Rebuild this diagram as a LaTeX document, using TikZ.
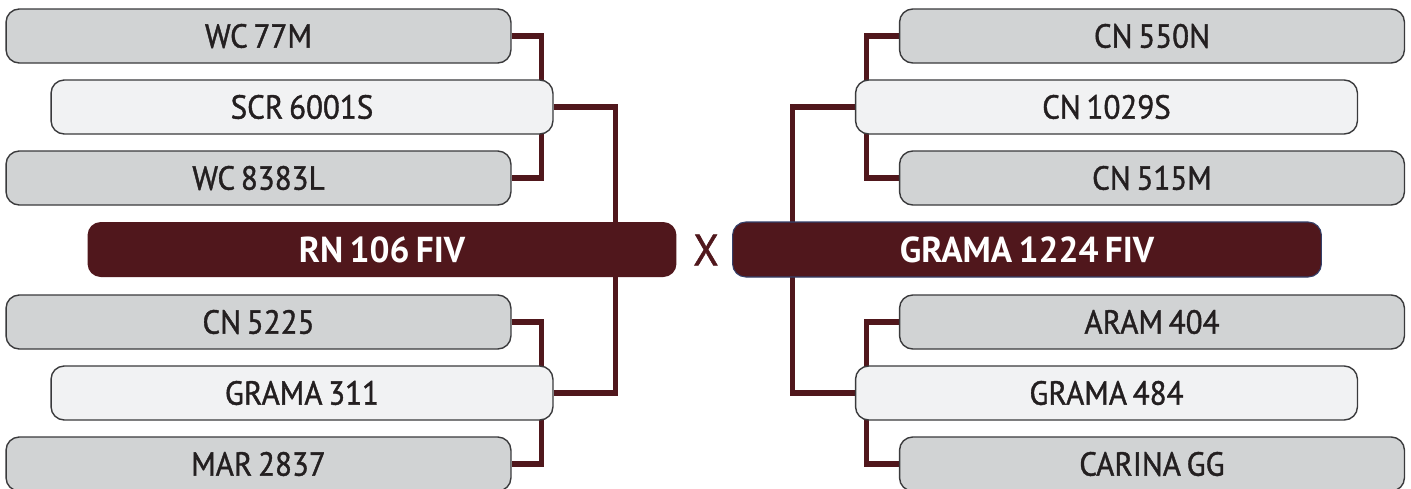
\documentclass[tikz,border=0pt]{standalone}
\usepackage{fontspec}
\setmainfont{PT Sans}
\newfontfamily\cellfont{PT Sans}[FakeBold=1.2,FakeStretch=0.93,WordSpace=0.7]
\newfontfamily\seedfont{PT Sans Bold}[FakeStretch=0.98,WordSpace=0.7]
\usetikzlibrary{positioning}
\definecolor{ink}{HTML}{231F20}
\definecolor{wine}{HTML}{50171C}
\definecolor{edge}{HTML}{3A3A3C}
\definecolor{rim}{HTML}{34406A}
\definecolor{plate}{HTML}{D1D3D4}
\definecolor{pale}{HTML}{F1F2F3}
\pgfdeclarelayer{back}
\pgfsetlayers{back,main}

\begin{document}
\begin{tikzpicture}[
  x=0.02cm,y=-0.02cm,
  text=ink,
  link/.style={draw=wine,line width=2.9pt},
  cell/.style={draw=edge,line width=.8pt,rounded corners=7.5pt,
    minimum height=1.08cm,inner sep=0pt,
    font=\cellfont\fontsize{19}{20}\selectfont},
  outer/.style={cell,fill=plate,minimum width=10.1cm},
  inner/.style={cell,fill=pale,minimum width=10.04cm},
  seed/.style={fill=wine,rounded corners=7.5pt,minimum width=11.78cm,
    minimum height=1.1cm,inner sep=0pt,text=white,
    font=\seedfont\fontsize{20.5}{22}\selectfont}
]
  \useasboundingbox (0,0) rectangle (1411,488);

  % left side
  \foreach \name/\y/\lbl in {wc77/36/WC 77M,wc8383/178/WC 8383L,
      cn5225/322/CN 5225,mar/464/MAR 2837}
    \node[outer] (\name) at (258.5,\y) {\lbl};
  \foreach \name/\y/\lbl in {scr/107/SCR 6001S,grama311/393/GRAMA 311}
    \node[inner] (\name) at (302,\y) {\lbl};
  \node[seed] (rn) at (382,249.5) {RN 106 FIV};

  % right side
  \foreach \name/\y/\lbl in {cn550/36/CN 550N,cn515/178/CN 515M,
      aram/322/ARAM 404,carina/464/CARINA GG}
    \node[outer] (\name) at (1152,\y) {\lbl};
  \foreach \name/\y/\lbl in {cn1029/107/CN 1029S,grama484/393/GRAMA 484}
    \node[inner] (\name) at (1106.5,\y) {\lbl};
  \node[seed,draw=rim,line width=.6pt] (grama) at (1027,249.5) {GRAMA 1224 FIV};

  \node[text=wine,font=\cellfont\fontsize{25}{26}\selectfont] (versus)
    at (706,250) {X};

  \begin{pgfonlayer}{back}
    \fill[white] (0,0) rectangle (1411,488);
    \draw[link] (wc77.east) -- ++(30,0) |- (wc8383.east);
    \draw[link] (cn5225.east) -- ++(30,0) |- (mar.east);
    \draw[link] (scr.east) -- ++(62,0) |- (grama311.east);
    \draw[link] (cn550.west) -- ++(-32,0) |- (cn515.west);
    \draw[link] (aram.west) -- ++(-32,0) |- (carina.west);
    \draw[link] (cn1029.west) -- ++(-62,0) |- (grama484.west);
  \end{pgfonlayer}
\end{tikzpicture}
\end{document}
